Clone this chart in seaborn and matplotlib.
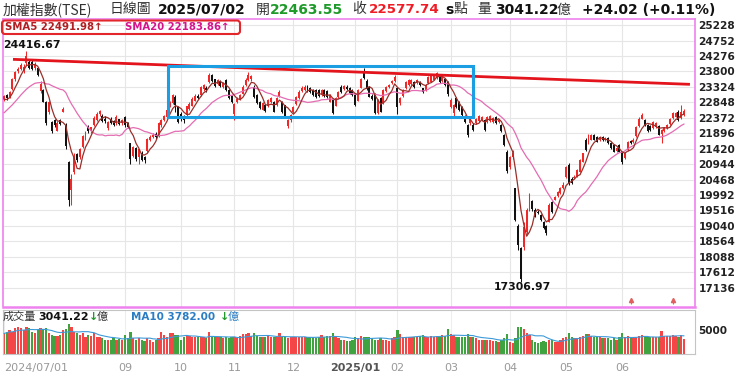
import numpy as np
import pandas as pd
import matplotlib
matplotlib.use("Agg")
import matplotlib.pyplot as plt
import seaborn as sns
from matplotlib.patches import FancyBboxPatch, Rectangle
from matplotlib.transforms import IdentityTransform

# ---------------- data ----------------
month_days = [21, 22, 20, 19, 21, 22, 15, 19, 21, 20, 20, 21, 2]
month_labels = ["2024/07/01", "", "09", "10", "11", "12", "2025/01", "02", "03", "04", "05", "06", ""]

prelude_closes = [21356, 21500, 21858, 21858, 21900, 21900, 22148, 22504, 22504, 22700,
                  23000, 23400, 23253, 23000, 22900, 23000, 22900, 22880, 22880]

opens = [
    22950, 23060, 23010, 23250, 23560, 23800, 23870, 23800, 24050, 24100, 24080, 23900, 23900, 23200, 23220, 22850, 22550, 22250, 22300, 21980, 22290,
    22560, 22150, 21000, 20150, 20700, 21260, 21150, 21480, 21780, 22100, 21950, 22150, 22300, 22480, 22420, 22350, 22050, 22350, 22260, 22200, 22320, 22200,
    22400, 22200, 21580, 21180, 21450, 21150, 21300, 21150, 21350, 21690, 21790, 21870, 21800, 22150, 22300, 22410, 22750, 22830, 23020, 22710,
    22500, 22400, 22450, 22650, 22750, 22900, 23050, 23080, 23250, 23300, 23480, 23680, 23560, 23420, 23500, 23330, 23530, 23220, 23050,
    22500, 22850, 22950, 23120, 23380, 23550, 23560, 23330, 23080, 22870, 22620, 22780, 22720, 22870, 22870, 22770, 23020, 22870, 22760, 22120, 22300,
    22550, 22800, 22980, 23200, 23230, 23330, 23280, 23230, 23220, 23220, 23080, 23220, 23200, 22870, 22920, 22740, 23000, 23330, 23250, 23330, 23280, 23220,
    23080, 22900, 23300, 23800, 23520, 23330, 23050, 23120, 22520, 22970, 22820, 23200, 23330, 23430, 23500,
    23280, 22820, 23030, 23280, 23380, 23400, 23480, 23450, 23480, 23280, 23230, 23430, 23480, 23550, 23600, 23640, 23500, 23580, 23480,
    22710, 22510, 22970, 22870, 22710, 22420, 22150, 22200, 22160, 22210, 22280, 22300, 22300, 22250, 22280, 22250, 22400, 22230, 22150, 21840, 21330,
    20850, 21150, 20200, 19050, 18350, 18400, 18850, 19530, 19800, 19540, 19480, 19380, 19150, 19050, 19170, 19780, 19850, 19950, 20050, 20200,
    20560, 20920, 20500, 20510, 20560, 20710, 21020, 21690, 21580, 21700, 21850, 21790, 21690, 21790, 21680, 21740, 21600, 21540, 21350, 21530,
    21330, 21130, 21380, 21650, 21620, 21800, 22120, 22350, 22300, 22160, 22120, 22050, 22080, 22130, 21880, 21960, 22060, 22180, 22370, 22410, 22560,
    22380, 22463.55,
]
highs = [
    23080, 23100, 23200, 23600, 23800, 23950, 24060, 24020, 24416.67, 24150, 24150, 24080, 23950, 23500, 23250, 22880, 22900, 22280, 22350, 22260, 22330,
    22700, 22200, 21050, 20650, 21300, 21300, 21450, 21850, 21950, 22150, 22100, 22420, 22560, 22620, 22480, 22420, 22260, 22400, 22300, 22450, 22350, 22350,
    22420, 22250, 21600, 21500, 21480, 21420, 21350, 21200, 21750, 21850, 21900, 21920, 22230, 22350, 22460, 22650, 22900, 23100, 23060, 22740,
    22560, 22450, 22750, 22850, 23000, 23100, 23100, 23360, 23420, 23350, 23740, 23720, 23580, 23580, 23540, 23460, 23560, 23250, 23080,
    22830, 23000, 23120, 23380, 23600, 23790, 23700, 23380, 23100, 22900, 22850, 22800, 22950, 23000, 22900, 23000, 23220, 22900, 22780, 22330, 22480,
    22740, 23030, 23220, 23350, 23370, 23380, 23320, 23260, 23250, 23250, 23250, 23260, 23230, 23100, 22950, 23000, 23200, 23370, 23380, 23380, 23320, 23250,
    23100, 23260, 23600, 23900, 23560, 23360, 23100, 23150, 22950, 23000, 23260, 23360, 23420, 23530, 23680,
    23300, 23000, 23260, 23500, 23560, 23580, 23520, 23580, 23520, 23300, 23400, 23670, 23720, 23720, 23790, 23670, 23670, 23600, 23500,
    22990, 22800, 23000, 22900, 22740, 22450, 22180, 22420, 22200, 22380, 22450, 22440, 22330, 22430, 22450, 22410, 22430, 22350, 22180, 21870, 21380,
    21200, 21380, 20220, 19100, 18400, 19150, 19600, 20050, 19850, 19580, 19520, 19420, 19180, 19080, 19750, 19820, 19960, 20120, 20230, 20380,
    20900, 20980, 20540, 20600, 20790, 21100, 21300, 21750, 21870, 21880, 21880, 21820, 21820, 21820, 21780, 21770, 21630, 21570, 21480, 21560,
    21360, 21330, 21670, 21700, 21740, 22130, 22400, 22520, 22330, 22180, 22150, 22280, 22240, 22150, 22030, 22080, 22180, 22380, 22560, 22550, 22600,
    22760, 22650,
]
lows = [
    22900, 22930, 22980, 23240, 23500, 23760, 23850, 23760, 24000, 23880, 23850, 23850, 23650, 23150, 22850, 22150, 22500, 21890, 22100, 21950, 22150,
    22540, 21400, 19662, 19680, 20650, 21000, 21100, 21450, 21700, 21900, 21900, 22120, 22280, 22440, 22250, 22220, 22000, 22180, 22120, 22150, 22150, 22150,
    22100, 22050, 20950, 21150, 21050, 20950, 21050, 20980, 21330, 21650, 21760, 21720, 21780, 22100, 22270, 22380, 22700, 22800, 22560, 22200,
    22280, 22200, 22420, 22620, 22720, 22880, 22950, 23050, 23200, 23180, 23450, 23480, 23320, 23380, 23320, 23300, 23200, 22960, 22820,
    22300, 22820, 22920, 23100, 23350, 23520, 23500, 22970, 22800, 22650, 22600, 22540, 22700, 22840, 22540, 22750, 23000, 22530, 22380, 22060, 22250,
    22520, 22780, 22960, 23170, 23200, 23170, 23150, 23050, 22990, 23010, 23050, 23000, 22990, 22850, 22480, 22720, 22980, 23150, 23220, 23220, 23100, 23050,
    22750, 22880, 23280, 23560, 23220, 23000, 22920, 22480, 22500, 22540, 22800, 23180, 23300, 23400, 23480,
    22500, 22780, 23000, 23250, 23350, 23380, 23300, 23420, 23350, 23150, 23200, 23400, 23460, 23530, 23580, 23450, 23480, 23350, 23050,
    22660, 22420, 22680, 22580, 22430, 22220, 21790, 22150, 21950, 22180, 22250, 22270, 21950, 22220, 22250, 22220, 22180, 22200, 21920, 21500, 20680,
    20800, 21100, 19200, 18300, 17306.97, 18300, 18800, 19500, 19500, 19300, 19400, 19200, 18960, 18750, 19150, 19450, 19830, 19930, 20030, 20180,
    20530, 20300, 20320, 20480, 20540, 20690, 21000, 21350, 21550, 21680, 21680, 21620, 21670, 21670, 21660, 21560, 21410, 21310, 21330, 21310,
    20960, 21100, 21360, 21560, 21600, 21780, 22100, 22320, 22120, 21920, 21970, 22020, 22050, 21830, 21580, 21930, 22040, 22160, 22350, 22390, 22280,
    22350, 22420,
]
closes = [
    23033, 22990, 23170, 23560, 23790, 23880, 24000, 23950, 24290, 23916, 23880, 24030, 23690, 23420, 22870, 22200, 22860, 21950, 22150, 22200, 22180,
    22650, 21500, 19830, 20500, 21150, 21080, 21420, 21800, 21880, 21950, 22080, 22380, 22500, 22590, 22280, 22260, 22230, 22200, 22150, 22400, 22180, 22300,
    22150, 22090, 21090, 21480, 21100, 21400, 21080, 21070, 21720, 21780, 21850, 21780, 22200, 22310, 22420, 22610, 22850, 23070, 22780, 22250,
    22330, 22300, 22720, 22800, 22950, 23050, 22980, 23330, 23380, 23230, 23680, 23520, 23350, 23540, 23360, 23430, 23230, 22980, 22850,
    22800, 22950, 23080, 23330, 23540, 23700, 23660, 23000, 22820, 22670, 22820, 22570, 22920, 22970, 22560, 22970, 23170, 22560, 22400, 22300, 22450,
    22700, 23000, 23180, 23300, 23330, 23200, 23180, 23080, 23020, 23040, 23220, 23030, 23020, 23070, 22520, 22980, 23170, 23180, 23350, 23250, 23130, 23080,
    22770, 23230, 23560, 23600, 23250, 23020, 22950, 22520, 22920, 22560, 23230, 23330, 23390, 23500, 23640,
    22700, 22970, 23230, 23480, 23530, 23550, 23330, 23550, 23380, 23180, 23380, 23640, 23690, 23690, 23740, 23480, 23640, 23380, 23120,
    22920, 22760, 22710, 22610, 22460, 22250, 21850, 22400, 22000, 22350, 22420, 22400, 22000, 22400, 22420, 22380, 22220, 22300, 21950, 21530, 20720,
    21150, 21300, 19232, 18460, 17392, 19000, 19530, 19890, 19550, 19330, 19450, 19230, 18990, 18810, 19680, 19480, 19940, 20100, 20200, 20300,
    20870, 20350, 20350, 20560, 20760, 21070, 21280, 21380, 21840, 21850, 21700, 21640, 21790, 21690, 21740, 21580, 21430, 21330, 21450, 21330,
    21020, 21300, 21640, 21600, 21700, 22100, 22350, 22450, 22150, 21950, 22000, 22250, 22200, 21850, 22000, 22050, 22150, 22350, 22520, 22508, 22300,
    22553.72, 22577.74,
]
volumes = [
    4290, 4650, 5000, 4650, 5360, 5720, 5360, 5000, 5720, 5360, 4650, 4290, 5150, 5360, 5150, 5360, 4290, 3930, 3720, 3720, 3930,
    5000, 5150, 6220, 5720, 4650, 4290, 3930, 4290, 3580, 3930, 3720, 4290, 3580, 3430, 3220, 3000, 2860, 3000, 3220, 3000, 3080, 2860,
    3930, 3220, 4650, 3220, 3000, 3220, 2860, 2720, 3220, 2860, 2500, 2860, 3220, 4650, 3930, 3580, 4290, 4290, 3930, 3930,
    2860, 3580, 3720, 3720, 3580, 3580, 3430, 3580, 3430, 3220, 4650, 3720, 3580, 3430, 3430, 3220, 3430, 3220, 3580,
    3430, 3220, 3720, 4150, 4150, 4290, 3720, 4290, 3720, 3580, 3580, 3430, 3720, 3580, 3430, 3430, 4500, 3580, 3430, 3220, 3430,
    3580, 3580, 3430, 3580, 3430, 3430, 3430, 3430, 3360, 3430, 3930, 3580, 3720, 3720, 4500, 3430, 3220, 2860, 2860, 2720, 2720, 2860,
    3430, 3220, 3720, 3580, 3430, 3580, 3220, 2860, 3000, 3220, 3000, 2860, 2720, 3220, 3430,
    5000, 4150, 3430, 3430, 3430, 3430, 3430, 3430, 3720, 3930, 3430, 3580, 3720, 3580, 3720, 3720, 3930, 3720, 5150,
    4150, 3930, 3580, 3580, 3430, 3430, 4080, 3580, 3430, 3220, 3000, 2860, 3000, 2860, 3000, 2720, 2720, 2500, 2860, 3220, 4150,
    2500, 2290, 3220, 5580, 5720, 5150, 4290, 3930, 2860, 2500, 2290, 2500, 2720, 2500, 3000, 2860, 2500, 2500, 2860, 3220,
    3580, 4290, 3580, 3220, 3220, 3580, 3720, 4080, 4080, 3720, 3580, 3430, 3430, 3220, 3220, 3220, 3000, 3220, 3000, 3430,
    4500, 3580, 3720, 3430, 3220, 3430, 3720, 3930, 3580, 3430, 3430, 3580, 3430, 3500, 4780, 3700, 3850, 3850, 3900, 3700, 3550,
    3950, 3041.22,
]
price_ticks = [17136, 17612, 18088, 18564, 19040, 19516, 19992, 20468, 20944, 21420,
               21896, 22372, 22848, 23324, 23800, 24276, 24752, 25228]
volume_ticks = [5000]
event_days = [223, 238]
trend_days = [3.2, 244.1]
trend_vals = [24173, 23403]
box_days = [58.3, 167.0]
box_vals = [22404, 23966]

# ---------------- derived ----------------
df = pd.DataFrame({"idx": np.arange(len(closes)), "open": opens, "high": highs,
                   "low": lows, "close": closes, "vol": volumes})
allc = pd.Series(prelude_closes + closes, dtype=float)
n0 = len(prelude_closes)
df["sma5"] = allc.rolling(5).mean().iloc[n0:].to_numpy()
df["sma20"] = allc.rolling(20).mean().iloc[n0:].to_numpy()
df["ma10v"] = df["vol"].rolling(10, min_periods=1).mean()
df["dir"] = np.where(df["close"] >= df["open"], "up", "down")
month_pos = np.concatenate([[0], np.cumsum(month_days)[:-1]])

# ---------------- style ----------------
sns.set_theme(style="white")
plt.rcParams["font.family"] = ["DejaVu Sans", "Noto Sans CJK TC"]
CJK = ["Noto Sans CJK TC", "DejaVu Sans"]
RED = "#f02828"
BLACK = "#111111"
VRED = "#f44646"
VGREEN = "#3fa33f"
PINK = "#e46cb2"
BROWN = "#9a2f2a"
BLUE = "#3d9ad8"
GRID = "#e6e6e6"

W, H = 740, 376
fig = plt.figure(figsize=(W / 100, H / 100), dpi=100)
fig.patch.set_facecolor("white")

def fx(x):
    return x / W

def fy(y):
    return 1 - y / H

ax = fig.add_axes([fx(3), fy(306.5), 692 / W, (306.5 - 19) / H])
axv = fig.add_axes([fx(3), fy(353.5), 692 / W, (353.5 - 309.5) / H])
XL = (-0.356, 245.9)

# ---------------- price panel ----------------
for d, col in (("up", RED), ("down", BLACK)):
    sub = df[df["dir"] == d]
    ax.vlines(sub["idx"], sub["low"], sub["high"], color=col, lw=0.75, zorder=3)
    body = (sub["close"] - sub["open"]).abs().clip(lower=14)
    ax.bar(sub["idx"], body, bottom=np.minimum(sub["open"], sub["close"]),
           width=0.7, color=col, linewidth=0, zorder=4)

sns.lineplot(data=df, x="idx", y="sma20", color=PINK, lw=0.9, ax=ax, zorder=5)
sns.lineplot(data=df, x="idx", y="sma5", color=BROWN, lw=0.9, ax=ax, zorder=5)

ax.plot(trend_days, trend_vals, color="#e3141c", lw=2.0, zorder=6, solid_capstyle="butt")
ax.add_patch(Rectangle((box_days[0], box_vals[0]), box_days[1] - box_days[0],
                       box_vals[1] - box_vals[0], fill=False, edgecolor="#1c9fe2",
                       lw=2.2, zorder=6))
ax.plot(event_days, [16760] * len(event_days), linestyle="none", marker="^",
        ms=3, color="#e06060", zorder=6)
ax.vlines(event_days, 16620, 16760, color="#e06060", lw=0.8, zorder=6)

ax.set_xlim(*XL)
ax.set_ylim(16557, 25416)
ax.set_yticks(price_ticks)
ax.set_yticklabels([str(v) for v in price_ticks])
ax.yaxis.tick_right()
ax.tick_params(axis="y", length=0, pad=2.5, labelsize=7.6, labelcolor="#222")
for lab in ax.get_yticklabels():
    lab.set_fontweight("bold")
ax.set_xticks(month_pos[2:12])
ax.tick_params(axis="x", length=0, labelbottom=False)
ax.grid(True, color=GRID, lw=0.8)
ax.set_axisbelow(True)
ax.set_xlabel("")
ax.set_ylabel("")
for s in ax.spines.values():
    s.set_color("#ee82ee")
    s.set_linewidth(1.2)
ax.spines["bottom"].set_linewidth(1.8)

# ---------------- volume panel ----------------
sns.barplot(data=df, x="idx", y="vol", hue="dir", palette={"up": VRED, "down": VGREEN},
            native_scale=True, dodge=False, width=0.8, errorbar=None, legend=False,
            saturation=1, linewidth=0, ax=axv)
sns.lineplot(data=df, x="idx", y="ma10v", color=BLUE, lw=0.8, ax=axv, zorder=5)
axv.set_xlim(*XL)
axv.set_ylim(0, 9430)
axv.set_yticks(volume_ticks)
axv.set_yticklabels([str(v) for v in volume_ticks])
axv.yaxis.tick_right()
axv.tick_params(axis="y", length=0, pad=2.5, labelsize=7.6, labelcolor="#222")
for lab in axv.get_yticklabels():
    lab.set_fontweight("bold")
tick_idx = [i for i, l in enumerate(month_labels) if l]
axv.set_xticks([month_pos[i] for i in tick_idx])
axv.set_xticklabels([month_labels[i] for i in tick_idx])
axv.tick_params(axis="x", length=4, width=0.8, color="#999", pad=3,
                labelsize=8, labelcolor="#999", direction="out")
xl = axv.get_xticklabels()
xl[0].set_horizontalalignment("left")
for lab in xl:
    if lab.get_text() == "2025/01":
        lab.set_fontweight("bold")
        lab.set_color("#555")
axv.grid(True, axis="x", color="#eeeeee", lw=0.8)
axv.set_axisbelow(True)
axv.set_xlabel("")
axv.set_ylabel("")
for s in axv.spines.values():
    s.set_color("#c4c4c4")
    s.set_linewidth(0.8)

# ---------------- texts ----------------
def T(x, y, s, **kw):
    kw.setdefault("va", "center")
    kw.setdefault("ha", "left")
    return fig.text(fx(x), fy(y), s, **kw)

HY = 9.5
T(3, HY, "加權指數(TSE)", family=CJK, fontsize=10, color="#333")
T(110, HY, "日線圖", family=CJK, fontsize=10, color="#333")
T(158, HY, "2025/07/02", fontsize=10, fontweight="bold", color="#111")
T(256, HY, "開", family=CJK, fontsize=10, color="#333")
T(270, HY, "22463.55", fontsize=10, fontweight="bold", color="#1f9a2a")
T(352, HY, "收", family=CJK, fontsize=10, color="#333")
T(369, HY, "22577.74", fontsize=9.7, fontweight="bold", color="#ee1c25")
T(445, HY, "s", fontsize=10, fontweight="bold", color="#111")
T(454, HY, "點", family=CJK, fontsize=10, color="#333")
T(477, HY, "量", family=CJK, fontsize=10, color="#333")
T(495, HY, "3041.22", fontsize=10, fontweight="bold", color="#111")
T(557, HY, "億", family=CJK, fontsize=10, color="#333")
T(582, HY, "+24.02 (+0.11%)", fontsize=10, fontweight="bold", color="#111")

T(5, 27.2, "SMA5 22491.98↑", fontsize=7.3, fontweight="bold", color="#b01e23")
T(125, 27.2, "SMA20 22183.86↑", fontsize=7.3, fontweight="bold", color="#d4148c")
fig.add_artist(FancyBboxPatch((2, H - 34), 238, 13.5,
                              boxstyle="round,pad=0,rounding_size=3",
                              fill=False, edgecolor="#e3262a", lw=1.5,
                              transform=IdentityTransform()))

T(3, 44.5, "24416.67", fontsize=7.8, fontweight="bold", color="#111")
T(494, 287.5, "17306.97", fontsize=7.8, fontweight="bold", color="#111")

VY = 316.5
T(3, VY, "成交量", family=CJK, fontsize=8, color="#333")
T(38, VY, "3041.22", fontsize=8, fontweight="bold", color="#111")
T(89, VY, "↓", fontsize=8, fontweight="bold", color="#1f9a2a")
T(97, VY, "億", family=CJK, fontsize=8, color="#333")
T(131, VY, "MA10 3782.00", fontsize=7.5, fontweight="bold", color="#2a7dc4")
T(220, VY, "↓", fontsize=8, fontweight="bold", color="#1f9a2a")
T(228, VY, "億", family=CJK, fontsize=8, color="#2a7dc4")

fig.savefig("out.png", dpi=100)
